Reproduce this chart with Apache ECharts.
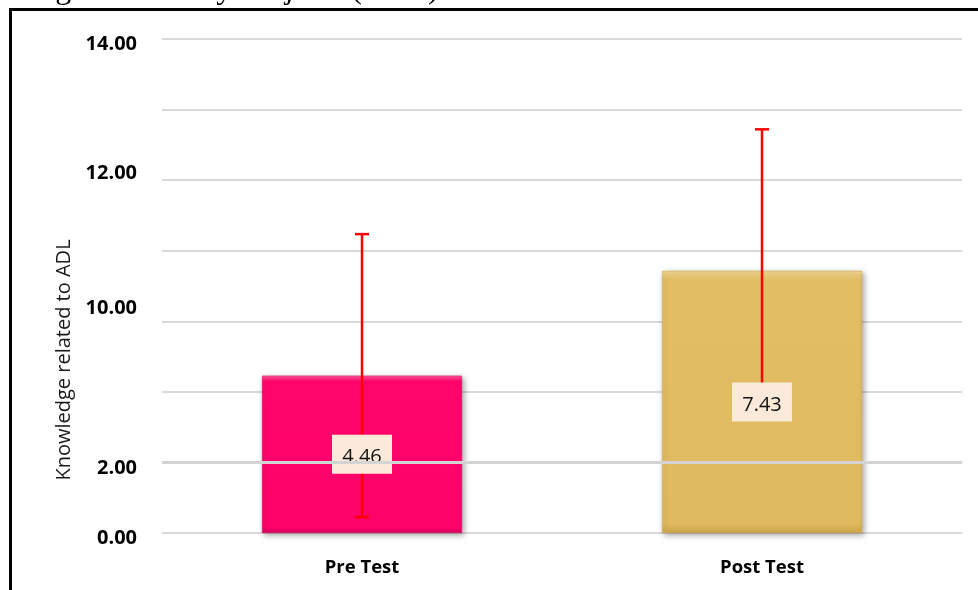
<!DOCTYPE html>
<html>
<head>
<meta charset="utf-8">
<script src="https://cdn.jsdelivr.net/npm/echarts@6/dist/echarts.min.js"></script>
<style>
html,body{margin:0;padding:0;background:#fff;overflow:hidden;}
#wrap{position:relative;width:978px;height:590px;overflow:hidden;}
#chart{position:absolute;left:0;top:0;width:978px;height:590px;}
#frame{position:absolute;left:9px;top:8px;width:1000px;height:620px;border:3px solid #000;pointer-events:none;box-sizing:border-box;}
</style>
</head>
<body>
<div id="wrap"><div id="chart"></div><div id="frame"></div></div>
<script>
// ---- data ----
const categories = ['Pre Test', 'Post Test'];
const meanValues = [4.46, 7.43];
const errorLow = [0.45, 3.42];
const errorHigh = [8.47, 11.44];
const yTickLabels = ['0.00', '2.00', '', '10.00', '', '12.00', '', '14.00'];
const overlayGridValue = 2;
const titleText = 'Knowledge in ADL by subjects (n=60)';
const yAxisName = 'Knowledge related to ADL';

// ---- styles ----
const barFills = [
  ['#ff5c9c', '#ff066c', '#fd036a', '#d8005c'],
  ['#f0d58f', '#e2bd64', '#e0ba60', '#cfa548']
];
function fill(c) {
  return new echarts.graphic.LinearGradient(0, 0, 0, 1, [
    {offset: 0, color: c[0]}, {offset: 0.035, color: c[1]},
    {offset: 0.965, color: c[2]}, {offset: 1, color: c[3]}
  ]);
}
const tickRich = ['dn', 'dn', '', 'up2', '', 'up1', '', 'dn'];
const richBase = {fontFamily: 'Open Sans', fontWeight: 'bold', fontSize: 20, color: '#000'};

const chart = echarts.init(document.getElementById('chart'));
chart.setOption({
  animation: false,
  graphic: [{
    type: 'text', left: -62, top: -26, silent: true,
    style: {text: titleText, font: '32px "Liberation Serif", "DejaVu Serif", serif', fill: '#000'}
  }],
  grid: {left: 162, right: 16, top: 39, bottom: 57},
  xAxis: {
    type: 'category', data: categories,
    axisLine: {show: false}, axisTick: {show: false},
    axisLabel: {margin: 25, fontFamily: 'Open Sans', fontWeight: 'bold', fontSize: 18.5, color: '#000'}
  },
  yAxis: {
    type: 'value', min: 0, max: 14, interval: 2,
    name: yAxisName, nameLocation: 'middle', nameGap: 83,
    nameTextStyle: {fontFamily: 'Open Sans', fontSize: 20, color: '#1a1a1a', padding: [0, 148, 0, 0]},
    axisLine: {show: false}, axisTick: {show: false},
    splitLine: {lineStyle: {color: '#d9d9d9', width: 2}},
    axisLabel: {
      margin: 25, fontFamily: 'Open Sans', fontWeight: 'bold', fontSize: 20, color: '#000',
      formatter: function (v) {
        const idx = Math.round(v / 2);
        const t = yTickLabels[idx] || '';
        if (!t) return '';
        return '{' + tickRich[idx] + '|' + t + '}';
      },
      rich: {
        dn: Object.assign({padding: [11, 0, 0, 0]}, richBase),
        up1: Object.assign({padding: [0, 0, 14, 0]}, richBase),
        up2: Object.assign({padding: [0, 0, 26, 0]}, richBase)
      }
    }
  },
  series: [
    {
      type: 'bar', barWidth: '50%', z: 2,
      data: meanValues.map((v, i) => ({
        value: v,
        itemStyle: {
          color: fill(barFills[i]), borderColor: barFills[i][3], borderWidth: 0.5,
          shadowBlur: 6, shadowColor: 'rgba(0,0,0,0.35)', shadowOffsetX: 2, shadowOffsetY: 2
        }
      }))
    },
    {
      type: 'custom', z: 3,
      data: categories.map((c, i) => [i, errorLow[i], errorHigh[i], meanValues[i]]),
      encode: {x: 0, y: [1, 2]},
      renderItem: function (params, api) {
        const lo = api.coord([api.value(0), api.value(1)]);
        const hi = api.coord([api.value(0), api.value(2)]);
        const mid = api.coord([api.value(0), api.value(3) / 2]);
        const g = api.coord([api.value(0), overlayGridValue]);
        const cs = params.coordSys;
        const hw = 7, bw = 60, bh = 39;
        const st = {stroke: '#ff0000', lineWidth: 2.5};
        return {
          type: 'group',
          children: [
            {type: 'line', shape: {x1: lo[0], y1: lo[1], x2: hi[0], y2: hi[1]}, style: st},
            {type: 'line', shape: {x1: hi[0] - hw, y1: hi[1], x2: hi[0] + hw, y2: hi[1]}, style: st},
            {type: 'line', shape: {x1: lo[0] - hw, y1: lo[1], x2: lo[0] + hw, y2: lo[1]}, style: st},
            {type: 'rect', shape: {x: mid[0] - bw / 2, y: mid[1] - bh / 2, width: bw, height: bh},
              style: {fill: '#fbe9da'}},
            {
              type: 'text', x: mid[0], y: mid[1] + 3,
              style: {
                text: api.value(3).toFixed(2), align: 'center', verticalAlign: 'middle',
                font: '20px "Open Sans"', fill: '#111'
              }
            },
            {
              type: 'rect',
              shape: {x: cs.x, y: g[1] - 1.5, width: cs.width, height: 3},
              style: {fill: '#d4d4d4'}
            }
          ]
        };
      }
    }
  ]
});
</script>
</body>
</html>
